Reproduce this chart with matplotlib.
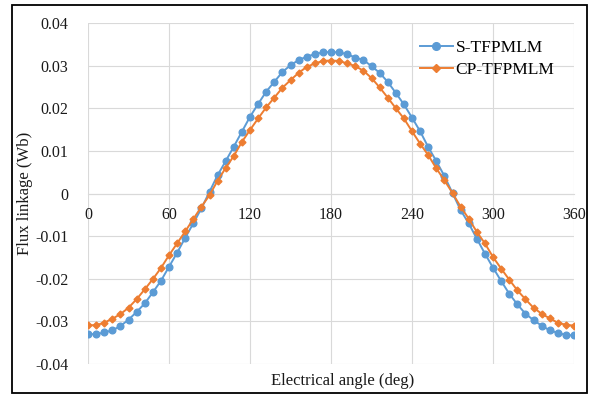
import matplotlib
matplotlib.use("Agg")
import matplotlib.pyplot as plt
from matplotlib.patches import Rectangle

angles = list(range(0, 361, 6))
s_tfpmlm = [-0.0330, -0.0330, -0.0326, -0.0321, -0.0311, -0.0296, -0.0278, -0.0258, -0.0232, -0.0205,
            -0.0172, -0.0139, -0.0104, -0.0070, -0.0035, 0.0004, 0.0043, 0.0076, 0.0110, 0.0145,
            0.0180, 0.0210, 0.0239, 0.0262, 0.0285, 0.0301, 0.0313, 0.0321, 0.0327, 0.0331,
            0.0332, 0.0331, 0.0327, 0.0319, 0.0313, 0.0299, 0.0283, 0.0262, 0.0236, 0.0209,
            0.0178, 0.0146, 0.0109, 0.0076, 0.0041, 0.0001, -0.0039, -0.0070, -0.0106, -0.0141,
            -0.0174, -0.0205, -0.0235, -0.0260, -0.0282, -0.0297, -0.0310, -0.0321, -0.0327, -0.0332,
            -0.0333]
cp_tfpmlm = [-0.0309, -0.0309, -0.0303, -0.0294, -0.0283, -0.0268, -0.0248, -0.0225, -0.0201, -0.0175,
             -0.0145, -0.0117, -0.0089, -0.0060, -0.0031, -0.0004, 0.0030, 0.0060, 0.0088, 0.0121,
             0.0149, 0.0176, 0.0202, 0.0225, 0.0248, 0.0266, 0.0283, 0.0297, 0.0305, 0.0311,
             0.0312, 0.0311, 0.0305, 0.0299, 0.0288, 0.0271, 0.0249, 0.0225, 0.0200, 0.0176,
             0.0146, 0.0117, 0.0090, 0.0059, 0.0031, 0.0001, -0.0031, -0.0059, -0.0090, -0.0117,
             -0.0149, -0.0176, -0.0202, -0.0227, -0.0248, -0.0268, -0.0282, -0.0293, -0.0303, -0.0308,
             -0.0310]
x_ticks = [0, 60, 120, 180, 240, 300, 360]
y_ticks = [-0.04, -0.03, -0.02, -0.01, 0, 0.01, 0.02, 0.03, 0.04]
y_labels = ["-0.04", "-0.03", "-0.02", "-0.01", "0", "0.01", "0.02", "0.03", "0.04"]

plt.rcParams['font.family'] = ['Liberation Serif', 'DejaVu Serif']

fig = plt.figure(figsize=(5.98, 3.96), dpi=100)
W, H = 598, 396
ax = fig.add_axes([88 / W, 1 - 364 / H, (574 - 88) / W, (364 - 23) / H])

grid_c = '#D9D9D9'
ax.plot(angles, s_tfpmlm, color='#5B9BD5', lw=1.4, marker='o', ms=4.8,
        label='S-TFPMLM', zorder=3)
ax.plot(angles, cp_tfpmlm, color='#ED7D31', lw=1.4, marker='D', ms=3.5,
        label='CP-TFPMLM', zorder=4)

ax.set_xlim(0, 360)
ax.set_ylim(-0.04, 0.04)
ax.set_xticks(x_ticks)
ax.set_yticks(y_ticks)
ax.set_yticklabels(y_labels)
ax.grid(True, color=grid_c, lw=0.8)
ax.set_axisbelow(True)
for side in ['top', 'right', 'left']:
    ax.spines[side].set_visible(False)
ax.spines['bottom'].set_position(('data', 0))
ax.spines['bottom'].set_color(grid_c)
ax.spines['bottom'].set_linewidth(0.8)
ax.tick_params(axis='both', length=0, labelsize=11.5, colors='#1a1a1a')
ax.tick_params(axis='x', pad=10)
ax.tick_params(axis='y', pad=14)

fig.text(25 / W, 1 - 193 / H, 'Flux linkage (Wb)', rotation=90, ha='center', va='center',
         fontsize=12, color='#1a1a1a')
fig.text(343 / W, 1 - 381 / H, 'Electrical angle (deg)', ha='center', va='center',
         fontsize=12, color='#1a1a1a')

ax.legend(loc='upper left', bbox_to_anchor=(420 / W, 1 - 40 / H), bbox_transform=fig.transFigure,
          frameon=False, fontsize=12.5, handlelength=1.9, handletextpad=0.15, labelspacing=0.35,
          borderpad=0, borderaxespad=0, markerscale=1.15)

fig.patches.append(Rectangle((12 / W, 1 - 393 / H), (587 - 12) / W, (393 - 5) / H,
                             transform=fig.transFigure, fill=False, edgecolor='black', lw=1.3))

fig.savefig('out.png', dpi=100)
